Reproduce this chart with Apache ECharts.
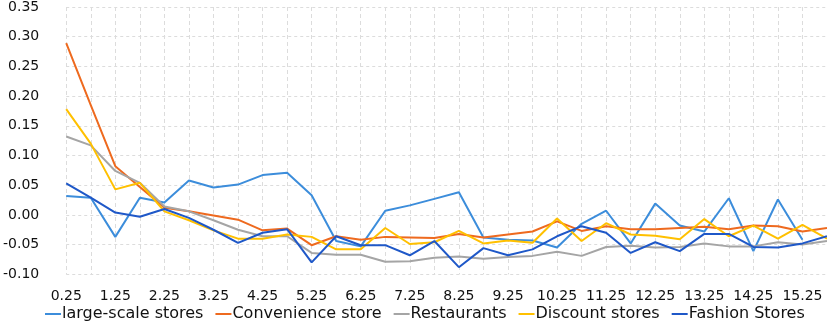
<!DOCTYPE html>
<html>
<head>
<meta charset="utf-8">
<script src="https://cdn.jsdelivr.net/npm/echarts@6/dist/echarts.min.js"></script>
<style>
html,body{margin:0;padding:0;background:#fff;}
#chart{width:827px;height:322px;}
</style>
</head>
<body>
<div id="chart"></div>
<script>
const categories = ['0.25','0.75','1.25','1.75','2.25','2.75','3.25','3.75','4.25','4.75','5.25','5.75','6.25','6.75','7.25','7.75','8.25','8.75','9.25','9.75','10.25','10.75','11.25','11.75','12.25','12.75','13.25','13.75','14.25','14.75','15.25','15.75'];
const largeScale = [0.032,0.029,-0.037,0.029,0.021,0.058,0.046,0.051,0.067,0.071,0.033,-0.044,-0.053,0.007,0.016,0.027,0.038,-0.038,-0.042,-0.043,-0.055,-0.015,0.007,-0.048,0.019,-0.018,-0.028,0.028,-0.061,0.026,-0.042,null];
const convenience = [0.289,0.185,0.082,0.047,0.012,0.006,-0.001,-0.008,-0.026,-0.023,-0.051,-0.036,-0.042,-0.037,-0.038,-0.039,-0.032,-0.038,-0.033,-0.028,-0.011,-0.027,-0.019,-0.024,-0.024,-0.022,-0.020,-0.024,-0.018,-0.019,-0.028,-0.022];
const restaurants = [0.132,0.117,0.074,0.054,0.014,0.006,-0.009,-0.025,-0.036,-0.036,-0.064,-0.067,-0.067,-0.079,-0.078,-0.072,-0.070,-0.074,-0.071,-0.069,-0.062,-0.069,-0.054,-0.052,-0.055,-0.054,-0.048,-0.053,-0.053,-0.046,-0.050,-0.044];
const discount = [0.178,0.120,0.043,0.054,0.006,-0.009,-0.026,-0.040,-0.040,-0.033,-0.037,-0.058,-0.058,-0.022,-0.049,-0.046,-0.027,-0.048,-0.043,-0.047,-0.006,-0.044,-0.014,-0.033,-0.035,-0.041,-0.007,-0.036,-0.018,-0.040,-0.017,-0.040];
const fashion = [0.053,0.029,0.004,-0.003,0.010,-0.005,-0.025,-0.047,-0.030,-0.024,-0.080,-0.036,-0.051,-0.051,-0.068,-0.044,-0.088,-0.056,-0.068,-0.058,-0.036,-0.019,-0.030,-0.064,-0.046,-0.061,-0.032,-0.032,-0.054,-0.055,-0.048,-0.036];
const seriesNames = ['large-scale stores','Convenience store','Restaurants','Discount stores','Fashion Stores'];
const seriesData = [largeScale, convenience, restaurants, discount, fashion];
const colors = ['#3C8DDB','#EE6A1F','#A5A5A5','#FFC000','#1F58C8'];

const font = '"DejaVu Sans", "Noto Sans", sans-serif';
const chart = echarts.init(document.getElementById('chart'));
chart.setOption({
  animation: false,
  color: colors,
  grid: {left: 65, right: 0, top: 4.3, bottom: 47.7},
  legend: {
    bottom: 0,
    left: 45,
    padding: 0,
    icon: 'rect',
    itemWidth: 16,
    itemHeight: 2,
    itemGap: 12,
    textStyle: {fontFamily: font, fontSize: 16, color: '#111', padding: [0,0,0,-4]},
    data: seriesNames
  },
  xAxis: {
    type: 'category',
    data: categories,
    boundaryGap: false,
    axisLine: {show: false},
    axisTick: {show: false},
    axisLabel: {interval: 1, margin: 15, fontFamily: font, fontSize: 14, color: '#111'},
    splitLine: {show: true, interval: 0, lineStyle: {type: [4,3], color: '#dcdcdc', width: 1}}
  },
  yAxis: {
    type: 'value',
    min: -0.1, max: 0.35, interval: 0.05,
    axisLine: {show: false},
    axisTick: {show: false},
    axisLabel: {margin: 27, fontFamily: font, fontSize: 14, color: '#111', formatter: v => v.toFixed(2)},
    splitLine: {lineStyle: {type: [3,3], color: '#dcdcdc', width: 1}}
  },
  series: seriesNames.map((n, k) => ({
    name: n,
    type: 'line',
    data: seriesData[k],
    symbol: 'none',
    lineStyle: {width: 2, color: colors[k]},
    itemStyle: {color: colors[k]}
  }))
});
</script>
</body>
</html>
